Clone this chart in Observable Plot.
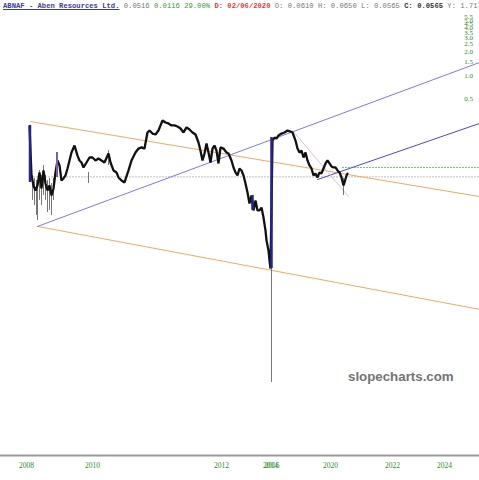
<!DOCTYPE html>
<html>
<head>
<meta charset="utf-8">
<script src="https://cdn.jsdelivr.net/npm/d3@7"></script>
<script src="https://cdn.jsdelivr.net/npm/@observablehq/plot@0.6"></script>
<style>
  body { margin: 0; background: #fff; }
  #wrap { position: relative; width: 479px; height: 480px; overflow: hidden; }
  #title { position: absolute; left: 3px; top: 2px; font-family: "Liberation Mono", monospace; font-size: 7.2px; white-space: pre; color: #777; z-index: 2; }
  #title .tk { color: #3b3b9a; font-weight: bold; text-decoration: underline; }
  #title .gr { color: #3a963a; }
  #title .rd { color: #e23a3a; font-weight: bold; }
  #title .bk { color: #333; font-weight: bold; }
  #wm { position: absolute; left: 348px; top: 369px; font-family: "Liberation Sans", Arial, sans-serif; font-weight: bold; font-size: 13.3px; color: #747474; }
</style>
</head>
<body>
<div id="wrap">
  <div id="title"></div>
  <div id="chart"></div>
  <div id="wm">slopecharts.com</div>
</div>
<script>
// ---- data (x = bar index, price in USD) ----
const ticker = "ABNAF - Aben Resources Ltd.";
const quote = { last: "0.0516", chg: "0.0116", pct: "29.00%", date: "02/06/2020",
  open: "0.0610", high: "0.0650", low: "0.0565", close: "0.0565", y: "1.7176" };

const yearTicks  = [0, 66, 195, 244, 245.5, 304, 366, 418];
const yearLabels = ["2008", "2010", "2012", "2014", "2016", "2020", "2022", "2024"];

const priceTicks = [0.5, 1.0, 1.5, 2.0, 2.5, 3.0, 3.5, 4.0, 4.5, 5.0, 5.5];

const closeSeries = [
  [3,0.225],[5,0.0537],[7,0.0401],[9,0.0346],[11,0.0401],[13,0.0587],[15,0.0367],[17,0.0622],
  [19,0.0425],[21,0.0346],[23,0.0401],[25,0.0299],[27,0.0367],[29,0.0587],[31,0.0832],[33,0.0720],
  [35,0.0464],[37,0.0492],[39,0.0537],[41,0.0659],[43,0.0832],[45,0.105],[48,0.129],[51,0.0961],
  [53,0.0832],[55,0.0785],[57,0.0679],[60,0.0785],[63,0.0908],[66,0.0908],[69,0.0832],[72,0.0882],
  [75,0.0832],[78,0.0785],[82,0.102],[84,0.0785],[87,0.0622],[90,0.0587],[92,0.0507],[95,0.0464],
  [98,0.0438],[102,0.0622],[105,0.0832],[109,0.105],[112,0.118],[115,0.122],[118,0.118],[121,0.189],
  [123,0.200],[126,0.183],[129,0.178],[132,0.200],[134,0.232],[136,0.268],[139,0.253],[142,0.246],
  [145,0.232],[148,0.232],[151,0.225],[154,0.212],[157,0.189],[160,0.219],[163,0.206],[166,0.189],
  [169,0.178],[172,0.141],[174,0.111],[176,0.0832],[178,0.102],[180,0.137],[182,0.105],[184,0.0785],
  [186,0.118],[188,0.129],[190,0.111],[192,0.0763],[194,0.122],[197,0.118],[200,0.105],[202,0.102],
  [205,0.0832],[207,0.0679],[209,0.0587],[211,0.0537],[213,0.0659],[215,0.0622],[217,0.0537],[219,0.0425],
  [221,0.0327],[223,0.0237],[225,0.0299],[227,0.0193],[229,0.0259],[231,0.0193],[233,0.0193],[235,0.0210],
  [237,0.0157],[239,0.0107],[240,0.00805],[242,0.00600],[243,0.00447],[244,0.00353],[246,0.149],[248,0.163],
  [250,0.158],[252,0.173],[255,0.183],[258,0.189],[261,0.200],[264,0.194],[266,0.189],[269,0.149],
  [271,0.118],[273,0.105],[275,0.111],[277,0.0908],[279,0.105],[281,0.0832],[283,0.0720],[285,0.0659],
  [287,0.0537],[289,0.0570],[291,0.0507],[293,0.0587],[295,0.0570],[297,0.0659],[299,0.0763],[301,0.0832],
  [303,0.0763],[305,0.0699],[307,0.0679],[309,0.0679],[311,0.0622],[313,0.0587],[315,0.0507],[317,0.0401],
  [318,0.0438],[320,0.0537],[321,0.0565]
];

// high-low ranges of individual bars: [index, low, high]
const greyWicks = [
  [6,0.0259,0.0537],[8,0.0223,0.0492],[10,0.0167,0.0464],[11,0.0144,0.0438],[13,0.0259,0.0622],
  [15,0.0223,0.0537],[17,0.0299,0.0720],[19,0.0259,0.0537],[21,0.0182,0.0464],[23,0.0193,0.0492],
  [25,0.0167,0.0425],[27,0.0259,0.0492],[62,0.0425,0.0587],[82,0.0720,0.111],[317,0.0299,0.0492],
  [245,0.000126,0.00353]
];
const blueBars   = [[3.5,0.0438,0.232],[245,0.00353,0.163],[226,0.0193,0.0299]];
const purpleBars = [[30.5,0.0507,0.105]];

// drawn trend lines: [[index, price], [index, price]]
const upperChannel  = [[4,0.260],[453,0.0290]];
const lowerChannel  = [[11,0.0121],[453,0.00107]];
const longSupport   = [[11,0.0121],[453,1.463]];
const recentSupport = [[291,0.0477],[453,0.246]];
const recentFall    = [[266,0.200],[322,0.0290]];
const greyLevel  = [[4,0.0516],[453,0.0516]];
const greenLevel = [[316,0.0679],[453,0.0679]];

// ---- title ----
document.getElementById("title").innerHTML =
  `<span class="tk">${ticker}</span> ${quote.last} <span class="gr">${quote.chg} ${quote.pct}</span> ` +
  `<span class="rd">D: ${quote.date}</span> O: ${quote.open} H: ${quote.high} L: ${quote.low} ` +
  `<span class="bk">C: ${quote.close}</span> Y: ${quote.y}`;

const line = (data, opts) => Plot.line(data, {x: d => d[0], y: d => d[1], ...opts});
const bars = (data, opts) => Plot.ruleX(data, {x: d => d[0], y1: d => d[1], y2: d => d[2], ...opts});

const chart = Plot.plot({
  width: 479,
  height: 480,
  marginTop: 0, marginLeft: 0, marginRight: 0, marginBottom: 25,
  x: {type: "linear", domain: [-26, 453], range: [0, 479], axis: null},
  y: {type: "log", domain: [0.0001, 10], range: [389.9, -3.73], axis: null},
  style: {background: "#fff"},
  marks: [
    Plot.frame({anchor: "bottom", stroke: "#9a9a9a", strokeWidth: 2}),
    line(greyLevel, {stroke: "#a8a8a8", strokeWidth: 0.8, strokeDasharray: "1,2"}),
    line(greenLevel, {stroke: "#4cbb4c", strokeWidth: 0.9, strokeDasharray: "1,2"}),
    line(upperChannel, {stroke: "#f3a860", strokeWidth: 1}),
    line(lowerChannel, {stroke: "#f3a860", strokeWidth: 1}),
    line(longSupport, {stroke: "#7a7aee", strokeWidth: 1}),
    line(recentSupport, {stroke: "#4848d8", strokeWidth: 1}),
    line(recentFall, {stroke: "#d9b0dc", strokeWidth: 0.8}),
    bars(greyWicks, {stroke: "#555", strokeWidth: 1, strokeOpacity: 0.8}),
    line(closeSeries, {stroke: "#111", strokeWidth: 2.3, strokeLinejoin: "miter"}),
    bars(blueBars, {stroke: "#24248c", strokeWidth: 2.5}),
    bars(purpleBars, {stroke: "#7b5cae", strokeWidth: 2}),
    Plot.text(priceTicks, {y: d => d, text: d => d.toFixed(1), frameAnchor: "right", dx: -11,
      textAnchor: "middle", fill: "#2d8a2d", fontSize: 7, fontFamily: "Liberation Serif, serif"}),
    Plot.text(yearTicks, {x: d => d, text: (d, i) => yearLabels[i], frameAnchor: "bottom", dy: 12,
      textAnchor: "middle", fill: "#2d8a2d", fontSize: 7.5, fontFamily: "Liberation Serif, serif"})
  ]
});
document.getElementById("chart").appendChild(chart);
</script>
</body>
</html>
